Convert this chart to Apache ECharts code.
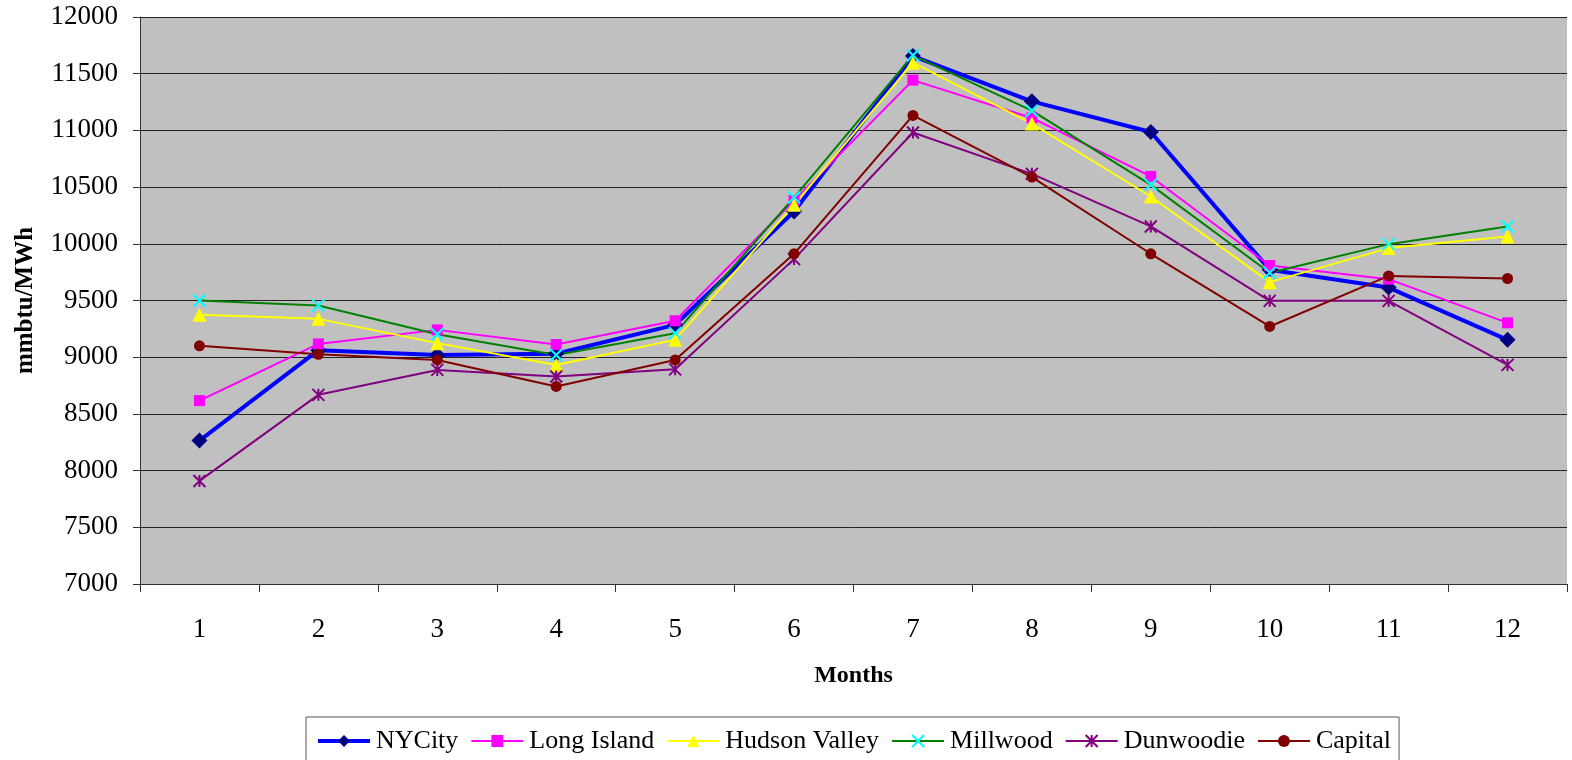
<!DOCTYPE html>
<html>
<head>
<meta charset="utf-8">
<script src="https://cdn.jsdelivr.net/npm/echarts@6/dist/echarts.min.js"></script>
<style>
  html, body { margin: 0; padding: 0; background: #fff; }
  #chart { width: 1572px; height: 760px; }
</style>
</head>
<body>
<div id="chart"></div>
<script>
// Monthly heat rate by zone (mmbtu/MWh)
const months = ['1', '2', '3', '4', '5', '6', '7', '8', '9', '10', '11', '12'];
const nyCity       = [8265, 9062, 9020, 9030, 9285, 10285, 11655, 11256, 10986, 9772, 9614, 9153];
const longIsland   = [8617, 9117, 9241, 9112, 9321, 10382, 11443, 11110, 10594, 9808, 9688, 9303];
const hudsonValley = [9374, 9338, 9124, 8932, 9153, 10344, 11597, 11060, 10417, 9662, 9962, 10065];
const millwood     = [9500, 9456, 9203, 9020, 9212, 10408, 11662, 11174, 10520, 9745, 9997, 10153];
const dunwoodie    = [7909, 8668, 8888, 8830, 8893, 9865, 10982, 10617, 10153, 9497, 9497, 8932];
const capital      = [9100, 9026, 8976, 8742, 8976, 9912, 11132, 10588, 9912, 9271, 9717, 9694];

const FONT = '"Liberation Serif", "Times New Roman", serif';

const xMark = 'path://M0,0L10,10M10,0L0,10';
const starMark = 'path://M0,0L10,10M10,0L0,10M5,0L5,10';

function line(name, data, lineColor, lineWidth, symbol, symbolSize, markColor, stroked) {
  return {
    name, type: 'line', data,
    symbol, symbolSize,
    showSymbol: true,
    lineStyle: { color: lineColor, width: lineWidth },
    itemStyle: stroked
      ? { color: markColor, borderColor: markColor, borderWidth: 2 }
      : { color: markColor, borderWidth: 0 },
    emphasis: { disabled: true },
    animation: false
  };
}

const chart = echarts.init(document.getElementById('chart'), null, { renderer: 'canvas' });
chart.setOption({
  backgroundColor: '#ffffff',
  animation: false,
  grid: { left: 140, right: 5, top: 17, bottom: 176, backgroundColor: '#C0C0C0', show: true, borderWidth: 0 },
  legend: {
    left: 306, top: 717,
    padding: [11, 8, 30, 10],
    borderColor: '#555', borderWidth: 1,
    itemWidth: 52, itemHeight: 15, itemGap: 12,
    textStyle: { fontFamily: FONT, fontSize: 26, color: '#000', padding: [0, 0, 0, 1] },
    data: [
      { name: 'NYCity', lineStyle: { width: 4 } },
      { name: 'Long Island', lineStyle: { width: 2 } },
      { name: 'Hudson Valley', lineStyle: { width: 2 } },
      { name: 'Millwood', lineStyle: { width: 2 } },
      { name: 'Dunwoodie', lineStyle: { width: 2 } },
      { name: 'Capital', lineStyle: { width: 2 } }
    ]
  },
  xAxis: {
    type: 'category', data: months, boundaryGap: true,
    name: 'Months', nameLocation: 'middle', nameGap: 80,
    nameTextStyle: { fontFamily: FONT, fontSize: 24, fontWeight: 'bold', color: '#000' },
    axisLine: { lineStyle: { color: '#333', width: 1 } },
    axisTick: { show: true, length: 8, lineStyle: { color: '#333' } },
    axisLabel: { fontFamily: FONT, fontSize: 27, color: '#000', margin: 32 },
    splitLine: { show: false }
  },
  yAxis: {
    type: 'value', min: 7000, max: 12000, interval: 500,
    name: 'mmbtu/MWh', nameLocation: 'middle', nameGap: 102, nameRotate: 90,
    nameTextStyle: { fontFamily: FONT, fontSize: 25, fontWeight: 'bold', color: '#000' },
    axisLine: { show: true, lineStyle: { color: '#333', width: 1 } },
    axisTick: { show: true, length: 7, lineStyle: { color: '#333' } },
    axisLabel: { fontFamily: FONT, fontSize: 27, color: '#000', margin: 22, formatter: v => String(v) },
    splitLine: { show: true, lineStyle: { color: '#222', width: 1 } }
  },
  series: [
    line('NYCity', nyCity, '#0000FF', 4, 'diamond', 16, '#000080', false),
    line('Long Island', longIsland, '#FF00FF', 2, 'rect', 11, '#FF00FF', false),
    line('Hudson Valley', hudsonValley, '#FFFF00', 2, 'triangle', 14, '#FFFF00', false),
    line('Millwood', millwood, '#008000', 2, xMark, 12, '#00FFFF', true),
    line('Dunwoodie', dunwoodie, '#800080', 2, starMark, 12, '#800080', true),
    line('Capital', capital, '#800000', 2, 'circle', 11, '#800000', false)
  ]
});
</script>
</body>
</html>
